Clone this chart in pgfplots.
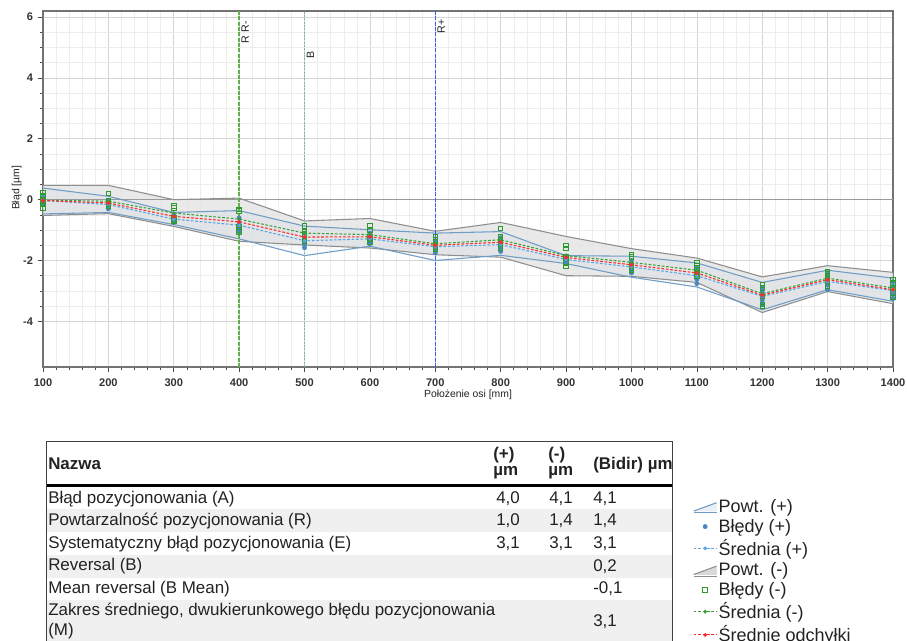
\documentclass[border=0pt]{standalone}
\usepackage{pgfplots}
\usepackage{pgfplotstable}
\pgfplotsset{compat=1.18}
\usepgfplotslibrary{fillbetween}
\usepackage{fontspec}
\setmainfont{Liberation Sans}
\definecolor{bandgray}{HTML}{8E8E8E}
\definecolor{bandblue}{HTML}{6F9DC6}
\definecolor{meanblue}{HTML}{5AA5E6}
\definecolor{errblue}{HTML}{4A86C0}
\definecolor{errgreen}{HTML}{2E9A2E}
\definecolor{meangreen}{HTML}{3AA03A}
\definecolor{meanred}{HTML}{FF2A2A}
\definecolor{gridmaj}{HTML}{D6D6D6}
\definecolor{gridmin}{HTML}{EDEDED}
\definecolor{rowgray}{HTML}{F0F0F0}
\definecolor{txt}{HTML}{222222}
\definecolor{vgreen}{RGB}{100,175,70}
\definecolor{vteal}{RGB}{120,180,180}
\definecolor{vblue}{RGB}{60,90,255}

\pgfplotstableread{
x    gu     gl     bu     bl     mp     mm     mr
100  0.47  -0.52   0.38  -0.47  -0.03  -0.02  -0.03
200  0.47  -0.46   0.11  -0.42  -0.16  -0.05  -0.11
300  0.00  -0.88  -0.42  -0.82  -0.64  -0.44  -0.55
400  0.05  -1.37  -0.36  -1.29  -0.84  -0.64  -0.73
500 -0.70  -1.49  -0.87  -1.84  -1.35  -1.10  -1.23
600 -0.62  -1.59  -0.99  -1.53  -1.29  -1.15  -1.22
700 -1.04  -1.81  -1.10  -2.00  -1.55  -1.45  -1.50
800 -0.75  -1.89  -1.05  -1.83  -1.48  -1.32  -1.40
900 -1.21  -2.50  -1.84  -2.10  -1.97  -1.84  -1.90
1000 -1.61 -2.52  -1.86  -2.55  -2.21  -2.06  -2.14
1100 -1.92 -2.72  -2.08  -2.87  -2.50  -2.32  -2.41
1200 -2.54 -3.71  -2.72  -3.62  -3.18  -3.09  -3.14
1300 -2.17 -3.02  -2.32  -2.96  -2.69  -2.58  -2.63
1400 -2.39 -3.42  -2.58  -3.34  -2.99  -2.90  -2.96
}\bands

\pgfplotstableread{
x y
100 0.08
100 0.00
100 -0.05
100 -0.10
100 -0.15
200 -0.05
200 -0.12
200 -0.18
200 -0.25
200 -0.30
300 -0.50
300 -0.58
300 -0.65
300 -0.70
300 -0.75
400 -0.60
400 -0.75
400 -0.85
400 -0.95
400 -1.05
500 -1.10
500 -1.25
500 -1.35
500 -1.48
500 -1.58
600 -1.10
600 -1.20
600 -1.30
600 -1.38
600 -1.45
700 -1.35
700 -1.45
700 -1.55
700 -1.65
700 -1.75
800 -1.25
800 -1.40
800 -1.50
800 -1.60
800 -1.70
900 -1.85
900 -1.92
900 -1.98
900 -2.03
900 -2.08
1000 -2.00
1000 -2.12
1000 -2.22
1000 -2.32
1000 -2.41
1100 -2.25
1100 -2.40
1100 -2.50
1100 -2.62
1100 -2.76
1200 -2.90
1200 -3.05
1200 -3.18
1200 -3.30
1200 -3.45
1300 -2.45
1300 -2.60
1300 -2.70
1300 -2.80
1300 -2.96
1400 -2.70
1400 -2.85
1400 -3.00
1400 -3.12
1400 -3.25
}\errplus

\pgfplotstableread{
x y
100 0.24
100 0.13
100 -0.05
100 -0.16
100 -0.27
200 0.20
200 -0.05
200 -0.10
200 -0.16
200 -0.20
300 -0.20
300 -0.27
300 -0.60
300 -0.66
300 -0.71
400 -0.33
400 -0.38
400 -0.90
400 -0.99
400 -1.07
500 -0.86
500 -1.04
500 -1.12
500 -1.20
500 -1.35
600 -0.86
600 -0.99
600 -1.23
600 -1.30
600 -1.40
700 -1.23
700 -1.32
700 -1.48
700 -1.56
700 -1.64
800 -0.95
800 -1.23
800 -1.32
800 -1.48
800 -1.59
900 -1.51
900 -1.61
900 -1.89
900 -2.08
900 -2.19
1000 -1.80
1000 -1.88
1000 -2.14
1000 -2.25
1000 -2.33
1100 -2.08
1100 -2.17
1100 -2.25
1100 -2.44
1100 -2.52
1200 -2.80
1200 -2.90
1200 -3.18
1200 -3.45
1200 -3.51
1300 -2.36
1300 -2.44
1300 -2.52
1300 -2.69
1300 -2.83
1400 -2.63
1400 -2.74
1400 -2.90
1400 -3.06
1400 -3.22
}\errminus

\newcommand{\tabfont}{\fontsize{12.7}{14}\selectfont}
\begin{document}
\begin{tikzpicture}

\begin{axis}[
  at={(32.25pt,-275.25pt)}, anchor=south west,
  scale only axis, width=637.5pt, height=267pt,
  xmin=100, xmax=1400, ymin=-5.5, ymax=6.2,
  xtick={100,200,...,1400}, minor x tick num=4,
  ytick={-4,-2,0,2,4,6}, minor y tick num=3,
  tick align=outside, tick pos=left,
  major tick length=4pt, minor tick length=2.5pt,
  every tick/.style={black!70, line width=0.5pt},
  grid=both,
  major grid style={gridmaj, line width=0.5pt},
  minor grid style={gridmin, line width=0.4pt},
  axis line style={black!55, line width=1pt},
  /pgf/number format/assume math mode=true,
  /pgf/number format/1000 sep={},
  ticklabel style={font=\bfseries\fontsize{8.3}{9}\selectfont, text=black!80},
  xticklabel style={yshift=-1pt},
  xlabel={Położenie osi [mm]},
  xlabel style={font=\fontsize{7.8}{9}\selectfont, at={(axis description cs:0.5,-0.079)}, anchor=center, text=txt},
  ylabel={Błąd [µm]},
  ylabel style={font=\fontsize{7.8}{9}\selectfont, at={(axis description cs:-0.031,0.503)}, anchor=center, rotate=0, text=txt},
  legend style={at={(axis description cs:0.760,-0.358)}, anchor=north west, draw=none, fill=none,
     font=\fontsize{13.5}{15}\selectfont, text=txt, row sep=1.4pt, nodes={inner sep=1.2pt}},
  legend cell align=left,
]
% bands
\addplot[draw=none, name path=gu, forget plot] table[x=x,y=gu]{\bands};
\addplot[draw=none, name path=gl, forget plot] table[x=x,y=gl]{\bands};
\addplot[fill=black!10, fill opacity=0.85, draw=none, forget plot] fill between[of=gu and gl];
\addplot[draw=none, name path=bu, forget plot] table[x=x,y=bu]{\bands};
\addplot[draw=none, name path=bl, forget plot] table[x=x,y=bl]{\bands};
\addplot[fill=bandblue, fill opacity=0.05, draw=none, forget plot] fill between[of=bu and bl];
% zero line
\addplot[black!40, line width=0.8pt, forget plot] coordinates {(100,0) (1400,0)};
% band lines
\addplot[bandgray, line width=0.8pt, forget plot] table[x=x,y=gu]{\bands};
\addplot[bandgray, line width=0.8pt, forget plot] table[x=x,y=gl]{\bands};
\addplot[bandblue, line width=0.8pt, forget plot] table[x=x,y=bu]{\bands};
\addplot[bandblue, line width=0.8pt, forget plot] table[x=x,y=bl]{\bands};
% vertical marker lines
\addplot[vgreen, line width=1pt, dash pattern=on 3pt off 1pt, forget plot] coordinates {(400,-5.5) (400,6.2)};
\addplot[vteal, line width=0.9pt, dash pattern=on 1.5pt off 1pt, forget plot] coordinates {(500,-5.5) (500,6.2)};
\addplot[vblue, line width=1.2pt, dash pattern=on 3pt off 1pt, forget plot] coordinates {(700,-5.5) (700,6.2)};
\node[rotate=90, anchor=north east, inner sep=1.5pt, font=\fontsize{8}{9}\selectfont, text=txt] at (axis cs:400,5.95) {R\,\,R-};
\node[rotate=90, anchor=north east, inner sep=1.5pt, font=\fontsize{8}{9}\selectfont, text=txt] at (axis cs:500,4.95) {B};
\node[rotate=90, anchor=north east, inner sep=1.5pt, font=\fontsize{8}{9}\selectfont, text=txt] at (axis cs:700,6.0) {R+};
% error points
\addplot[only marks, mark=*, mark size=1.6pt, errblue, forget plot] table[x=x,y=y]{\errplus};
\addplot[only marks, mark=square, mark size=1.7pt, errgreen, line width=0.7pt, mark options={fill=white, fill opacity=0.5}, forget plot] table[x=x,y=y]{\errminus};
% means
\addplot[meanblue, line width=0.8pt, dash pattern=on 2pt off 1.3pt, mark=*, mark size=0.9pt, mark options={solid}, forget plot] table[x=x,y=mp]{\bands};
\addplot[meangreen, line width=0.8pt, dash pattern=on 2pt off 1.3pt, mark=*, mark size=0.9pt, mark options={solid}, forget plot] table[x=x,y=mm]{\bands};
\addplot[meanred, line width=0.8pt, dash pattern=on 2pt off 1.3pt, mark=*, mark size=1.1pt, mark options={solid}, forget plot] table[x=x,y=mr]{\bands};

% legend
\addlegendimage{legend image code/.code={
  \fill[bandblue!15] (0cm,-0.12cm) -- (0.6cm,0.1cm) -- (0.6cm,-0.12cm) -- cycle;
  \draw[bandblue, line width=0.8pt] (0cm,-0.12cm) -- (0.6cm,0.1cm);
  \draw[bandblue, line width=0.8pt] (0cm,-0.17cm) -- (0.6cm,-0.17cm);}}
\addlegendentry{Powt. (+)}
\addlegendimage{only marks, mark=*, mark size=1.6pt, errblue}
\addlegendentry{Błędy (+)}
\addlegendimage{meanblue, line width=0.8pt, dash pattern=on 2pt off 1.3pt, mark=*, mark size=1pt, mark options={solid}}
\addlegendentry{Średnia (+)}
\addlegendimage{legend image code/.code={
  \fill[black!15] (0cm,-0.12cm) -- (0.6cm,0.1cm) -- (0.6cm,-0.12cm) -- cycle;
  \draw[bandgray, line width=0.8pt] (0cm,-0.12cm) -- (0.6cm,0.1cm);
  \draw[bandgray, line width=0.8pt] (0cm,-0.17cm) -- (0.6cm,-0.17cm);}}
\addlegendentry{Powt. (-)}
\addlegendimage{only marks, mark=square, mark size=1.7pt, errgreen, line width=0.8pt}
\addlegendentry{Błędy (-)}
\addlegendimage{meangreen, line width=0.8pt, dash pattern=on 2pt off 1.3pt, mark=*, mark size=1pt, mark options={solid}}
\addlegendentry{Średnia (-)}
\addlegendimage{meanred, line width=0.8pt, dash pattern=on 2pt off 1.3pt, mark=*, mark size=1pt, mark options={solid}}
\addlegendentry{Średnie odchyłki}
\end{axis}

% table
\begin{scope}[x=0.75pt, y=-0.75pt]
  \fill[rowgray] (46,509) rectangle (672,532);
  \fill[rowgray] (46,555) rectangle (672,578);
  \fill[rowgray] (46,600) rectangle (672,650);
  \draw[black!75, line width=0.7pt] (46,441.5) -- (672,441.5);
  \draw[black, line width=2.2pt] (46,485.5) -- (672,485.5);
  \draw[black!75, line width=0.7pt] (46.5,441.5) -- (46.5,650);
  \draw[black!75, line width=0.7pt] (672,441.5) -- (672,650);
  \begin{scope}[every node/.style={anchor=west, inner sep=0pt, font=\tabfont, text=txt}]
    \node[font=\bfseries\tabfont] at (48,464) {Nazwa};
    \node[font=\bfseries\tabfont] at (493,455) {(+)};
    \node[font=\bfseries\tabfont] at (493,473) {µm};
    \node[font=\bfseries\tabfont] at (548,455) {(-)};
    \node[font=\bfseries\tabfont] at (548,473) {µm};
    \node[font=\bfseries\tabfont] at (593,465) {(Bidir) µm};
    \node at (48,499) {Błąd pozycjonowania (A)};
    \node at (48,521) {Powtarzalność pozycjonowania (R)};
    \node at (48,544) {Systematyczny błąd pozycjonowania (E)};
    \node at (48,566.5) {Reversal (B)};
    \node at (48,589) {Mean reversal (B Mean)};
    \node at (48,611) {Zakres średniego, dwukierunkowego błędu pozycjonowania};
    \node at (48,631) {(M)};
    \node at (496,499) {4,0};
    \node at (549,499) {4,1};
    \node at (593,499) {4,1};
    \node at (496,521) {1,0};
    \node at (549,521) {1,4};
    \node at (593,521) {1,4};
    \node at (496,544) {3,1};
    \node at (549,544) {3,1};
    \node at (593,544) {3,1};
    \node at (593,566.5) {0,2};
    \node at (593,589) {-0,1};
    \node at (593,622) {3,1};
  \end{scope}
\end{scope}
\pgfresetboundingbox
\path[use as bounding box] (0pt,0pt) rectangle (680.25pt,-480.75pt);
\end{tikzpicture}
\end{document}
